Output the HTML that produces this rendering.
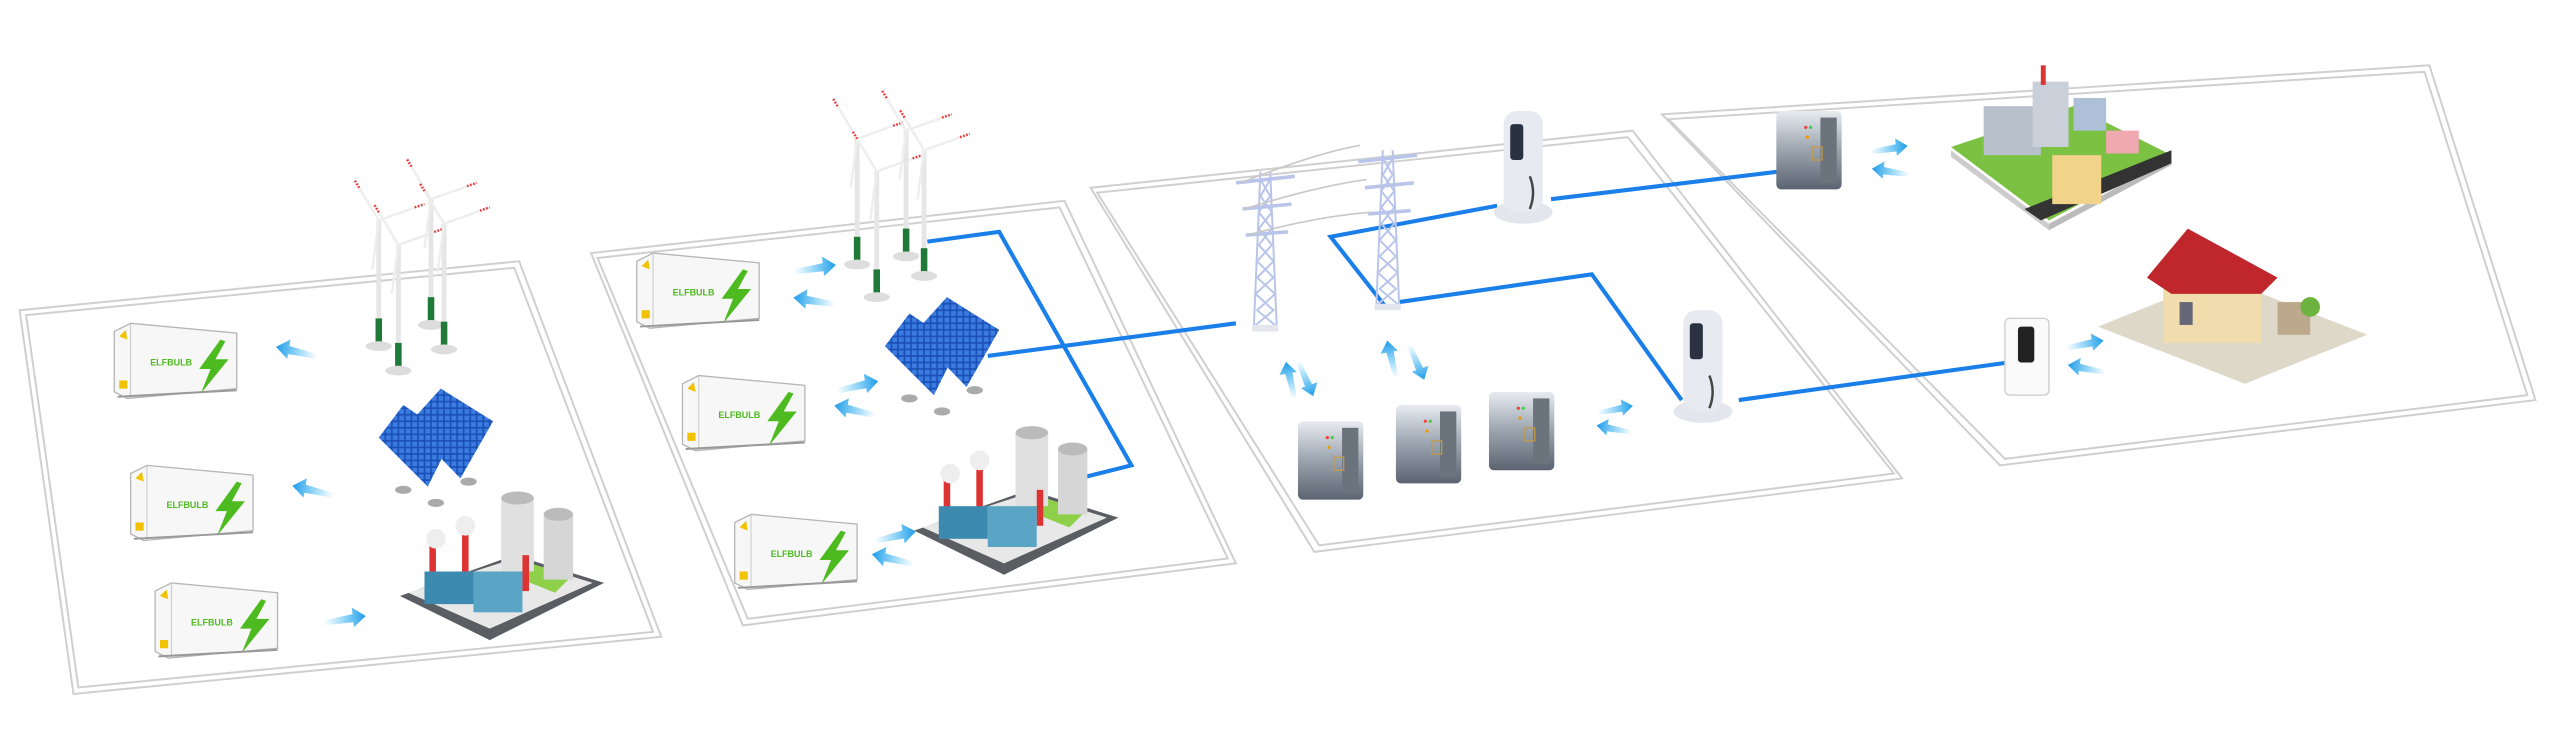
<!DOCTYPE html>
<html><head><meta charset="utf-8"><style>
html,body{margin:0;padding:0;background:#fff;width:2560px;height:756px;overflow:hidden}
svg{display:block}
</style></head><body>
<svg width="2560" height="756" viewBox="0 0 1568 463" preserveAspectRatio="none" xmlns="http://www.w3.org/2000/svg">
<defs>
<linearGradient id="ar" x1="0" x2="1"><stop offset="0" stop-color="#29b6f6" stop-opacity="0"/><stop offset="1" stop-color="#1e9be8"/></linearGradient>
<linearGradient id="cabg" x1="0" y1="0" x2="0" y2="1"><stop offset="0" stop-color="#e8ecf1"/><stop offset=".5" stop-color="#9aa3ae"/><stop offset="1" stop-color="#5b6470"/></linearGradient>
<pattern id="grid" width="4" height="4" patternUnits="userSpaceOnUse"><rect width="4" height="4" fill="#1a4fb5"/><rect x=".5" y=".5" width="3" height="3" fill="#3a7be0"/></pattern>
<g id="cont">
<polygon points="0,5 10,0 75,6 75,40 8,46 0,42" fill="#f7f7f7" stroke="#b5b5b5" stroke-width=".8"/>
<line x1="10" y1="0" x2="10" y2="46" stroke="#c8c8c8" stroke-width=".6"/>
<polygon points="3,8 7,4 8,10" fill="#f2c200"/>
<rect x="3" y="35" width="5" height="5" fill="#f2c200"/>
<polygon points="65,10 52,28 59,28 53,43 70,22 62,22 68,11" fill="#4dbb1f"/>
<text x="22" y="26" font-family="Liberation Sans,sans-serif" font-size="5.5" fill="#4dbb1f" font-weight="bold">ELFBULB</text>
<line x1="2" y1="45" x2="75" y2="41" stroke="#999" stroke-width="1.2"/>
</g>
<g id="arR"><polygon points="0,2 18,0 18,-4 26,2 18,8 18,5 0,5" fill="url(#ar)"/></g>
<g id="cabinet">
<rect x="0" y="0" width="40" height="48" rx="3" fill="url(#cabg)"/>
<rect x="27" y="4" width="10" height="40" fill="#6b737d"/>
<rect x="22" y="22" width="6" height="8" fill="none" stroke="#c49a4a" stroke-width=".8"/>
<circle cx="18" cy="10" r="1" fill="#e44"/><circle cx="21" cy="10" r="1" fill="#4c4"/>
<circle cx="19" cy="16" r="1" fill="#e90"/>
</g>
<g id="turb">
<rect x="-1.5" y="0" width="3" height="75" fill="#e6e6e6"/>
<rect x="-2" y="60" width="4" height="15" fill="#1f7a3a"/>
<ellipse cx="0" cy="77" rx="8" ry="3" fill="#ddd"/>
<line x1="0" y1="0" x2="-15" y2="-25" stroke="#eee" stroke-width="1.5"/>
<line x1="0" y1="0" x2="28" y2="-10" stroke="#eee" stroke-width="1.5"/>
<line x1="0" y1="0" x2="-4" y2="30" stroke="#eee" stroke-width="1.5"/>
<line x1="-12" y1="-20" x2="-15" y2="-25" stroke="#e33" stroke-width="1.5" stroke-dasharray="1 1"/>
<line x1="22" y1="-8" x2="28" y2="-10" stroke="#e33" stroke-width="1.5" stroke-dasharray="1 1"/>
</g>
<g id="solar">
<polygon points="0,30 15,10 45,30 30,60" fill="url(#grid)"/>
<polygon points="18,22 38,0 70,20 50,55" fill="url(#grid)"/>
<ellipse cx="15" cy="62" rx="5" ry="2.5" fill="#aaa"/><ellipse cx="55" cy="57" rx="5" ry="2.5" fill="#aaa"/><ellipse cx="35" cy="70" rx="5" ry="2.5" fill="#aaa"/>
</g>
<g id="plant">
<polygon points="0,70 70,45 125,62 55,97" fill="#5a5d62"/>
<polygon points="5,68 70,47 118,62 55,90" fill="#e8e8e8"/>
<polygon points="80,50 105,58 95,68 70,58" fill="#8ed04a"/>
<rect x="62" y="10" width="20" height="45" fill="#e0e0e0"/><ellipse cx="72" cy="10" rx="10" ry="4" fill="#bbb"/>
<rect x="88" y="20" width="18" height="40" fill="#d6d6d6"/><ellipse cx="97" cy="20" rx="9" ry="4" fill="#bbb"/>
<rect x="18" y="38" width="4" height="25" fill="#d33"/><rect x="38" y="30" width="4" height="28" fill="#d33"/><rect x="75" y="45" width="4" height="22" fill="#d33"/>
<rect x="15" y="55" width="30" height="20" fill="#3d8ab0"/><rect x="45" y="55" width="30" height="25" fill="#5aa5c5"/>
<circle cx="22" cy="35" r="6" fill="#eee"/><circle cx="40" cy="27" r="6" fill="#eee"/>
</g>
<g id="charger">
<ellipse cx="18" cy="62" rx="18" ry="7" fill="#e4e6ee"/>
<rect x="6" y="0" width="24" height="62" rx="8" fill="#e8eaf2"/>
<rect x="10" y="8" width="8" height="22" rx="2" fill="#2a3140"/>
<path d="M22,40 q4,10 0,20" stroke="#444" fill="none" stroke-width="1.5"/>
</g>
<g id="tower" stroke="#b8c4ea" fill="none" stroke-width="1.2">
<polyline points="-7,0 -3,-95"/><polyline points="7,0 3,-95"/>
<path d="M-7,0 L5,-10 L-6,-20 L5,-30 L-5,-40 L4,-50 L-4,-60 L4,-70 L-3,-80 L3,-90 M7,0 L-5,-10 L6,-20 L-5,-30 L5,-40 L-4,-50 L4,-60 L-4,-70 L3,-80 L-3,-90"/>
<polyline points="-18,-88 18,-92" stroke-width="2.2"/>
<polyline points="-14,-72 16,-75" stroke-width="2.2"/>
<polyline points="-12,-56 14,-58" stroke-width="2.2"/>
<rect x="-8" y="-1" width="16" height="4" fill="#e4e6ee" stroke="none"/>
</g>
</defs>

<!-- panels -->
<g fill="none" stroke="#cfcfcf" stroke-width="1.2">
<polygon points="12,190 318,160 405,390 45,425"/>
<polygon points="16,193 315,164 400,387 48,421"/>
<polygon points="362,155 652,123 757,345 455,383"/>
<polygon points="366,158 649,127 752,342 458,379"/>
<polygon points="668,115 1000,80 1165,293 805,338"/>
<polygon points="672,118 997,84 1160,290 808,334"/>
<polygon points="1018,70 1488,40 1553,245 1225,285"/>
<polygon points="1022,73 1485,44 1548,242 1228,281"/>
</g>

<!-- blue lines -->
<g fill="none" stroke="#1a7fe8" stroke-width="2.5">
<polyline points="568,148 612,142 693,285 665,292"/>
<polyline points="605,218 757,198"/>
<polyline points="917,126 815,145 848,187"/>
<polyline points="950,122 1090,105"/>
<polyline points="857,185 975,168 1030,245"/>
<polyline points="1065,245 1230,222"/>
</g>

<!-- panel 1 -->
<use href="#cont" x="70" y="198"/>
<use href="#cont" x="80" y="285"/>
<use href="#cont" x="95" y="357"/>
<use href="#arR" transform="translate(195,215) scale(-1,1) rotate(-10)"/>
<use href="#arR" transform="translate(205,300) scale(-1,1) rotate(-10)"/>
<use href="#arR" transform="translate(198,378) rotate(-6)"/>
<use href="#turb" x="232" y="135"/><use href="#turb" x="244" y="150"/><use href="#turb" x="264" y="122"/><use href="#turb" x="272" y="137"/>
<use href="#solar" x="232" y="238"/>
<use href="#plant" x="245" y="295"/>

<!-- panel 2 -->
<use href="#cont" x="390" y="155"/>
<use href="#cont" x="418" y="230"/>
<use href="#cont" x="450" y="315"/>
<use href="#arR" transform="translate(486,163) rotate(-6)"/>
<use href="#arR" transform="translate(512,183) scale(-1,1) rotate(-6)"/>
<use href="#arR" transform="translate(512,236) rotate(-10)"/>
<use href="#arR" transform="translate(537,251) scale(-1,1) rotate(-10)"/>
<use href="#arR" transform="translate(535,328) rotate(-10)"/>
<use href="#arR" transform="translate(560,342) scale(-1,1) rotate(-10)"/>
<use href="#turb" x="525" y="85"/><use href="#turb" x="537" y="105"/><use href="#turb" x="555" y="80"/><use href="#turb" x="566" y="92"/>
<use href="#solar" x="542" y="182"/>
<use href="#plant" x="560" y="255"/>

<!-- panel 3 towers -->
<use href="#tower" x="775" y="200"/>
<use href="#tower" x="850" y="187"/>
<path d="M760,112 q45,-18 73,-23 M762,128 q45,-14 75,-18 M764,144 q45,-12 76,-14" stroke="#c8c8c8" stroke-width="1" fill="none"/>
<use href="#charger" x="915" y="68"/>
<use href="#charger" x="1025" y="190"/>
<use href="#cabinet" x="795" y="258"/>
<use href="#cabinet" x="855" y="248"/>
<use href="#cabinet" x="912" y="240"/>
<use href="#arR" transform="translate(790,245) rotate(-100) scale(.9)"/>
<use href="#arR" transform="translate(798,220) rotate(70) scale(.9)"/>
<use href="#arR" transform="translate(852,232) rotate(-100) scale(.9)"/>
<use href="#arR" transform="translate(866,210) rotate(70) scale(.9)"/>
<use href="#arR" transform="translate(978,250) rotate(-8) scale(.85)"/>
<use href="#arR" transform="translate(1000,262) scale(-.85,.85) rotate(-8)"/>

<!-- panel 4 -->
<use href="#cabinet" x="1088" y="68"/>
<use href="#arR" transform="translate(1145,90) rotate(-6) scale(.9)"/>
<use href="#arR" transform="translate(1170,104) scale(-.9,.9) rotate(-6)"/>
<!-- factory -->
<polygon points="1195,90 1270,65 1330,95 1255,135" fill="#7bc142"/>
<polygon points="1195,92 1255,137 1255,141 1195,96" fill="#ccc"/>
<polygon points="1255,137 1330,97 1330,101 1255,141" fill="#bbb"/>
<polygon points="1240,128 1330,92 1330,100 1250,135" fill="#333"/>
<rect x="1215" y="65" width="35" height="30" fill="#b8c0cc"/>
<rect x="1245" y="50" width="22" height="40" fill="#c9d0da"/>
<rect x="1257" y="95" width="30" height="30" fill="#f2d38a"/>
<rect x="1290" y="80" width="20" height="14" fill="#f0a9b0"/>
<rect x="1270" y="60" width="20" height="20" fill="#aebfd8"/>
<rect x="1250" y="40" width="3" height="12" fill="#d33"/>
<!-- house -->
<polygon points="1285,200 1360,170 1450,205 1375,235" fill="#ddd8c8"/>
<rect x="1325" y="165" width="60" height="45" fill="#f1dcae"/>
<polygon points="1315,170 1340,140 1395,170 1385,180 1330,180" fill="#c0272d"/>
<rect x="1395" y="185" width="20" height="20" fill="#bca88a"/>
<circle cx="1415" cy="188" r="6" fill="#6cb33f"/>
<rect x="1335" y="185" width="8" height="14" fill="#667"/>
<!-- home battery -->
<rect x="1228" y="195" width="27" height="47" rx="3" fill="#fafafa" stroke="#ccc" stroke-width=".8"/>
<rect x="1236" y="200" width="10" height="22" rx="2" fill="#222"/>
<use href="#arR" transform="translate(1265,210) rotate(-8) scale(.9)"/>
<use href="#arR" transform="translate(1290,225) scale(-.9,.9) rotate(-8)"/>
</svg>
</body></html>
